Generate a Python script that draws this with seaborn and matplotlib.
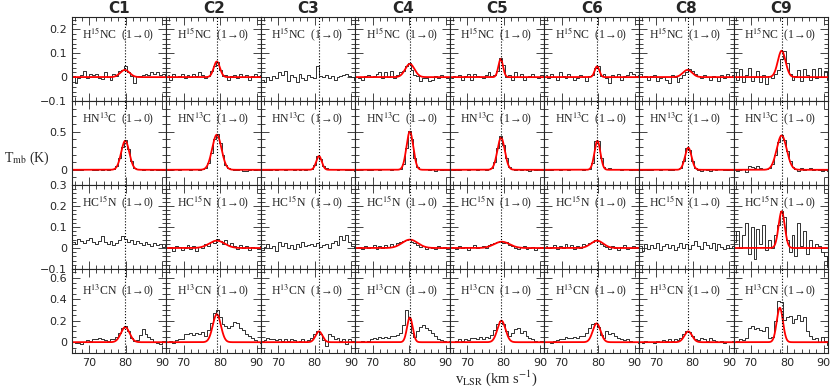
import numpy as np
import matplotlib
matplotlib.use("Agg")
import matplotlib.pyplot as plt
from matplotlib.ticker import MultipleLocator, FuncFormatter
import seaborn as sns

# sources (columns) and systemic velocities (dotted lines)
sources = ["C1", "C2", "C3", "C4", "C5", "C6", "C8", "C9"]
v_sys = [79.8, 79.1, 81.2, 80.2, 79.2, 79.7, 78.6, 78.5]

# channel velocities (km/s), 0.8 km/s channels
v_start = 65.6
dv = 0.8
n_chan = 33

lines = ["H$^{15}$NC  (1\u21920)", "HN$^{13}$C  (1\u21920)",
         "HC$^{15}$N  (1\u21920)", "H$^{13}$CN  (1\u21920)"]

# spectra in mK, one list per source
h15nc = [
    [5, -25, -5, 10, 25, -5, 15, 10, 15, -5, -8, 20, 0, -10, 15, 5, 25, 30, 45, 20, 5, -25, 5, 5, 10, 15, 10, 20, 15, 20, 10, 15, 5],
    [10, -10, 15, 0, 5, 15, -5, 10, 0, 15, 5, 20, 10, -5, 5, 25, 45, 65, 30, 5, 10, -10, 5, 10, -5, 15, 0, 10, -10, 5, 15, 5, 10],
    [-10, -20, 0, -10, 5, -5, 20, 10, 25, -15, 10, 0, -20, 15, -5, -10, 10, 0, -5, 45, 5, 0, 10, -5, 5, -10, 0, 5, 10, 15, 5, 0, -10],
    [0, -5, -10, 5, 10, 0, 5, 15, 20, -5, 20, 0, 25, -5, 10, 20, 25, 45, 60, 30, 10, 5, -15, -5, -5, -15, -10, 5, -5, 10, 0, -5, -10],
    [-5, 5, 0, 10, -10, 5, 15, -10, 15, 5, 0, -5, 10, 20, 5, 10, 25, 80, 50, 0, 10, -10, 20, 0, 15, -10, 0, 5, 15, 0, -5, 10, 5],
    [10, -5, 15, 0, -10, 20, 5, -5, 15, 0, -10, -5, 10, 0, -15, 5, 10, 40, 45, 5, 15, -5, -25, 10, 0, 15, -10, 5, 10, 20, 15, 5, 10],
    [15, 0, 5, -10, 5, 10, -15, -5, 0, -10, -25, 10, 0, -20, -5, 10, 20, 35, 25, 15, 5, -5, 10, 0, -10, 5, 0, -15, 10, -5, 15, 0, 10],
    [20, -10, 35, -20, 10, 40, -15, 0, 25, -20, 10, -30, 5, -5, 15, 30, 75, 110, 60, 15, -10, 5, 30, -15, 35, 10, -10, 35, -5, 40, 0, 25, -10],
]
hn13c = [
    [5, 15, 10, 0, 10, 5, 15, 0, -5, 5, 0, 10, 0, 5, 10, 45, 160, 300, 385, 270, 120, 30, 5, 10, 0, 15, 5, 0, 10, -5, 5, 0, 5],
    [5, 0, 10, 5, 0, 10, 5, 15, 0, 5, 10, 0, 10, 25, 95, 225, 400, 465, 350, 195, 65, 20, 5, -5, 0, 10, -10, -15, 0, 5, -5, 5, 10],
    [10, 15, 5, 0, 10, -5, 5, 10, 0, 15, 5, 0, 10, -5, 5, 0, 10, 15, 60, 185, 140, 50, 20, 10, 5, 15, 0, 10, 5, -5, 0, 5, -10],
    [0, 10, 5, 10, 0, -5, 5, 10, 0, 5, 15, 5, 0, 10, 5, 15, 80, 290, 510, 400, 160, 40, 10, 5, 15, 0, 10, -10, 5, 0, 10, 5, -5],
    [5, 0, 10, -5, 5, 10, 0, 5, 10, 0, 5, 15, 0, 10, 20, 100, 290, 445, 320, 150, 40, 15, 0, 10, -5, 5, 0, -10, 5, 0, 10, 5, 0],
    [5, 10, 0, 5, 10, 0, 15, 5, 0, 10, 5, 15, 10, 0, 5, 10, 85, 380, 380, 160, 40, 15, 20, 10, 5, 15, 0, 10, 5, 0, 5, 10, 0],
    [0, 5, 10, -5, 0, 10, 5, 0, 10, 5, -5, 0, 10, 5, 30, 120, 280, 260, 110, 30, 0, -10, 5, 0, -10, 5, 0, 10, 5, -5, 0, 5, 10],
    [0, -10, 5, 15, -30, 50, 40, 20, 45, 30, 5, 10, 25, 80, 200, 370, 460, 390, 240, 110, 40, 10, -10, 20, 0, 15, 25, -5, 10, 0, -15, 5, -20],
]
hc15n = [
    [30, 20, 45, 35, 25, 40, 50, 30, 20, 35, 55, 30, 20, 35, 15, 25, 40, 55, 45, 30, 40, 20, 35, 25, 15, 30, 20, 10, 25, 15, 20, 5, 15],
    [0, 5, -15, 10, 5, -10, 0, 15, -5, 10, -15, 5, 0, 20, 10, 30, 25, 45, 35, 20, 40, 15, 25, 10, -5, 15, 0, 10, -10, 5, 0, -5, 10],
    [-10, 5, 20, 0, 10, -15, 30, 10, 25, 0, 15, -5, 20, 5, 30, 10, 15, 20, 10, 25, 5, 15, 20, 0, 25, 35, 15, 55, 40, 60, 30, 10, 0],
    [0, 5, -5, 10, 0, 5, 15, -5, 10, 0, 15, 5, 20, 10, 25, 30, 35, 40, 45, 30, 25, 15, 5, 10, -5, 5, 0, -5, 10, 0, 5, -5, 0],
    [5, 0, -5, 10, 0, 5, -10, 5, 15, 0, 5, 10, 0, 15, 20, 25, 30, 35, 25, 30, 15, 10, 0, -5, 5, 10, -5, 0, 5, -10, 0, 5, 0],
    [10, 0, 5, 15, -5, 10, 0, 20, 5, 15, -5, 10, 0, 20, 15, 25, 30, 40, 35, 20, 10, 5, -5, 10, 0, -10, 5, 15, -5, 0, 10, 5, 0],
    [10, -15, 20, -5, 15, 0, 25, -10, 10, 20, 0, 15, -10, 5, 25, 0, 20, -5, 15, 35, 10, -5, 30, 15, 0, 25, -10, 20, 5, -5, 15, 0, 10],
    [30, 80, 0, 60, 120, -30, 100, -50, 90, 20, 110, -10, 40, 0, 60, 110, 175, 150, 40, -20, 60, -40, 120, 10, 80, -30, 40, 0, 20, 10, -20, -40, -90],
]
h13cn = [
    [0, -10, -5, -15, 5, 20, 15, 25, 30, 35, 25, 20, 15, 30, 25, 50, 90, 130, 150, 100, 40, 10, 20, 65, 120, 80, 45, 25, 0, -10, -20, 10, 0],
    [0, 10, -5, 20, 30, 25, 80, 75, 90, 70, 85, 75, 95, 60, 110, 180, 270, 300, 230, 170, 150, 130, 150, 190, 180, 130, 110, 80, 60, 40, 20, 0, -10],
    [10, 20, 40, 30, 25, 20, 30, 15, 25, 10, 30, 20, 5, 15, 25, 0, 20, 40, 75, 100, 80, 20, -40, 80, 60, 30, 40, 10, 25, -15, 30, 10, 5],
    [0, 5, 10, 0, 15, 30, 35, 25, 45, 40, 50, 35, 55, 60, 70, 90, 160, 300, 220, 90, 50, 100, 140, 160, 130, 110, 90, 60, 30, 20, 10, 5, 15],
    [5, 0, 10, 25, 15, 30, 20, 40, 35, 25, 45, 30, 50, 40, 70, 110, 170, 200, 170, 100, 60, 90, 120, 130, 90, 100, 60, 40, 30, 10, 0, 15, 5],
    [0, 5, -5, 10, 20, 25, 30, 45, 40, 35, 50, 40, 55, 60, 90, 130, 170, 175, 140, 70, 40, 100, 80, 90, 60, 40, 30, 20, 25, 10, 0, 5, -5],
    [0, -5, 10, 0, 5, -10, 15, 5, 20, 10, 25, 15, 30, 20, 40, 75, 100, 95, 55, 30, 20, 40, 30, 15, 35, 20, 10, 0, 15, -5, 5, 0, 10],
    [0, 10, 30, 20, 40, 130, 150, 120, 130, 110, 100, 140, 40, 50, 200, 380, 370, 210, 230, 240, 180, 220, 250, 200, 230, 100, 60, 30, 40, 0, 50, 10, -30],
]

# gaussian fits: (peak K, centre km/s, fwhm km/s), None = no fit
fit_h15nc = [(0.03, 79.8, 3.0), (0.065, 79.1, 2.0), None, (0.055, 80.2, 3.0),
             (0.075, 79.2, 1.5), (0.045, 79.7, 1.5), (0.03, 78.6, 3.0), (0.11, 78.5, 2.5)]
fit_hn13c = [(0.38, 79.9, 2.6), (0.46, 79.1, 3.0), (0.18, 81.2, 1.8), (0.50, 80.2, 2.2),
             (0.42, 79.3, 2.4), (0.38, 79.8, 1.9), (0.29, 78.8, 2.1), (0.45, 78.5, 3.2)]
fit_hc15n = [None, (0.035, 79.1, 5.0), None, (0.04, 80.2, 5.0),
             (0.03, 79.5, 5.0), (0.035, 79.7, 4.0), None, (0.175, 78.5, 2.0)]
fit_h13cn = [(0.14, 79.9, 2.8), (0.26, 79.1, 2.6), (0.10, 81.2, 2.2), (0.23, 80.2, 1.8),
             (0.20, 79.4, 2.6), (0.175, 79.6, 2.5), (0.10, 78.8, 2.5), (0.32, 78.0, 2.0)]

spectra = [h15nc, hn13c, hc15n, h13cn]
fits = [fit_h15nc, fit_hn13c, fit_hc15n, fit_h13cn]
ylims = [(-0.1, 0.25), (-0.2, 0.9), (-0.1, 0.3), (-0.1, 0.68)]
ymajor = [0.1, 0.5, 0.1, 0.2]
yminor = [0.02, 0.1, 0.02, 0.05]
label_y = [0.80, 0.79, 0.80, 0.74]

sns.set_style("ticks")
plt.rcParams["font.family"] = ["DejaVu Sans"]
plt.rcParams["mathtext.fontset"] = "stix"

vel = v_start + dv * np.arange(n_chan)
v_fine = np.linspace(64, 92, 600)

fig, axes = plt.subplots(4, 8, figsize=(8.3, 3.9), dpi=100, sharex=True, sharey="row")
fig.subplots_adjust(left=0.0867, right=0.9976, top=0.956, bottom=0.095, wspace=0, hspace=0)

fmt = FuncFormatter(lambda v, p: f"{round(v, 3):g}".replace("-", "\u2212"))

for r in range(4):
    for c in range(8):
        ax = axes[r, c]
        spec = np.array(spectra[r][c]) / 1000.0
        sns.lineplot(x=vel, y=spec, ax=ax, color="#222222", lw=0.65,
                     drawstyle="steps-mid", estimator=None)
        if fits[r][c] is not None:
            a, v0, fw = fits[r][c]
            g = a * np.exp(-4 * np.log(2) * (v_fine - v0) ** 2 / fw ** 2)
            sns.lineplot(x=v_fine, y=g, ax=ax, color="red", lw=1.3, estimator=None)
        ax.axvline(v_sys[c], color="black", ls=":", lw=0.8)
        ax.text(0.49, label_y[r], lines[r], transform=ax.transAxes, ha="center",
                va="center", fontsize=8.5, family="Liberation Serif")
        ax.set_xlim(65.3, 91.2)
        ax.set_ylim(*ylims[r])
        ax.xaxis.set_major_locator(MultipleLocator(10))
        ax.xaxis.set_minor_locator(MultipleLocator(2))
        ax.yaxis.set_major_locator(MultipleLocator(ymajor[r]))
        ax.yaxis.set_minor_locator(MultipleLocator(yminor[r]))
        ax.yaxis.set_major_formatter(fmt)
        ax.tick_params(which="both", direction="in", top=True, right=True,
                       width=0.6, labelsize=8)
        ax.tick_params(which="major", length=6)
        ax.tick_params(which="minor", length=3)
        for s in ax.spines.values():
            s.set_linewidth(0.8)
        ax.set_xlabel("")
        ax.set_ylabel("")
        if r == 0:
            ax.set_title(sources[c], fontsize=11, fontweight="bold", pad=3)

fig.text(0.005, 0.595, "T$_{\\rm mb}$ (K)", fontsize=10, family="Liberation Serif",
         ha="left", va="center")
fig.text(0.598, 0.031, "v$_{\\rm LSR}$ (km s$^{-1}$)", fontsize=10.5,
         family="Liberation Serif", ha="center", va="center")

fig.savefig("out.png", dpi=100)
